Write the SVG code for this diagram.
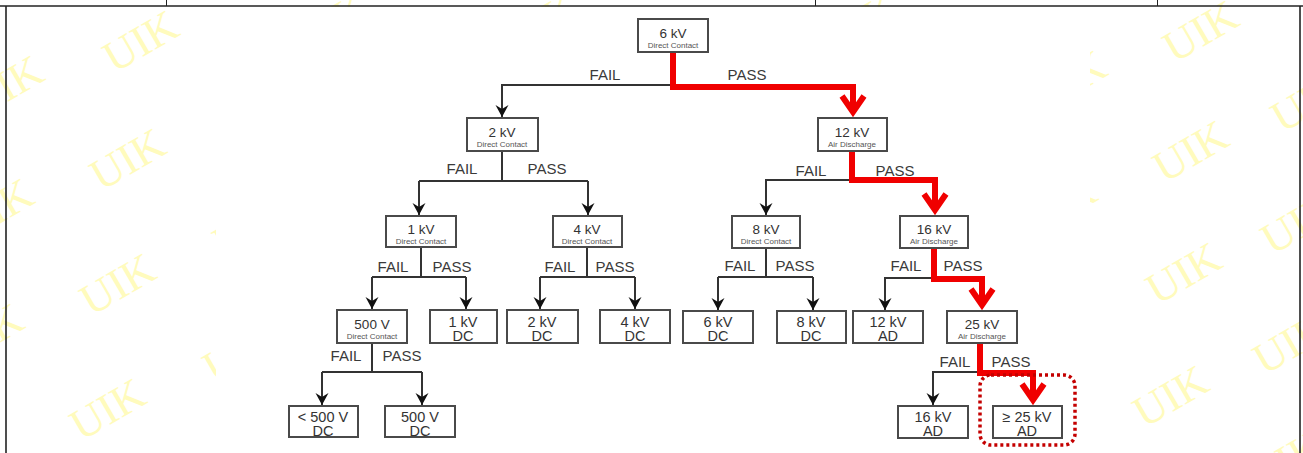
<svg xmlns="http://www.w3.org/2000/svg" width="1303" height="453" viewBox="0 0 1303 453">
<style>
.wm{font-family:"Liberation Serif","DejaVu Serif",serif;font-size:44px;fill:#fffbbd;text-anchor:middle}
.box{fill:#fff;stroke:#4a4a4a;stroke-width:2}
.t{font-family:"Liberation Sans",Arial,sans-serif;font-size:13.5px;fill:#333;text-anchor:middle}
.t2{font-family:"Liberation Sans",Arial,sans-serif;font-size:14.5px;fill:#333;text-anchor:middle}
.s{font-family:"Liberation Sans",Arial,sans-serif;font-size:8px;fill:#555;text-anchor:middle}
.lbl{font-family:"Liberation Sans",Arial,sans-serif;font-size:15px;fill:#3a3a3a;text-anchor:middle}
.blk{fill:none;stroke:#333;stroke-width:2;marker-end:url(#ah)}
.ln{fill:none;stroke:#333;stroke-width:2}
.reda{fill:none;stroke:#f00000;stroke-width:6;marker-end:url(#rah)}
.tbl{stroke:#222;fill:none}
</style>
<defs>
<marker id="ah" viewBox="-13 -7 14 14" refX="0" refY="0" markerWidth="14" markerHeight="14" markerUnits="userSpaceOnUse" orient="auto">
<path d="M0,0 L-12,-6.5 L-8,0 L-12,6.5 Z" fill="#111"/>
</marker>
<marker id="rah" viewBox="-20 -14 28 28" refX="0" refY="0" markerWidth="28" markerHeight="28" markerUnits="userSpaceOnUse" orient="auto">
<path d="M-16,-11 L0,0 L-16,11" fill="none" stroke="#f00000" stroke-width="6"/>
</marker>
</defs>
<rect x="0" y="0" width="1303" height="453" fill="#fff"/>
<g id="watermarks">
<text class="wm" transform="rotate(-30 140 40)" x="140" y="56">UIK</text>
<text class="wm" transform="rotate(-30 127 158)" x="127" y="174">UIK</text>
<text class="wm" transform="rotate(-30 117 283)" x="117" y="299">UIK</text>
<text class="wm" transform="rotate(-30 107 408)" x="107" y="424">UIK</text>
<text class="wm" transform="rotate(-30 5 85)" x="5" y="101">UIK</text>
<text class="wm" transform="rotate(-30 -5 208)" x="-5" y="224">UIK</text>
<text class="wm" transform="rotate(-30 -15 333)" x="-15" y="349">UIK</text>
<text class="wm" transform="rotate(-30 1200 30)" x="1200" y="46">UIK</text>
<text class="wm" transform="rotate(-30 1190 150)" x="1190" y="166">UIK</text>
<text class="wm" transform="rotate(-30 1183 272)" x="1183" y="288">UIK</text>
<text class="wm" transform="rotate(-30 1170 395)" x="1170" y="411">UIK</text>
<text class="wm" transform="rotate(-30 1308 100)" x="1308" y="116">UIK</text>
<text class="wm" transform="rotate(-30 1298 222)" x="1298" y="238">UIK</text>
<text class="wm" transform="rotate(-30 1290 342)" x="1290" y="358">UIK</text>
<text class="wm" transform="rotate(-30 1285 460)" x="1285" y="476">UIK</text>
<text class="wm" transform="rotate(-30 1068 80)" x="1068" y="96">UIK</text>
<text class="wm" transform="rotate(-30 1058 205)" x="1058" y="221">UIK</text>
<text class="wm" transform="rotate(-30 250 225)" x="250" y="241">UIK</text>
<text class="wm" transform="rotate(-30 240 350)" x="240" y="366">UIK</text>
<text class="wm" transform="rotate(-30 330 22)" x="330" y="38">UIK</text>
<text class="wm" transform="rotate(-30 540 22)" x="540" y="38">UIK</text>
<text class="wm" transform="rotate(-30 860 22)" x="860" y="38">UIK</text>
</g>
<rect x="216" y="7" width="874" height="446" fill="#fff"/>
<g id="table">
<line class="tbl" x1="0" y1="6" x2="1303" y2="6" stroke-width="1.6"/>
<line class="tbl" x1="166.5" y1="0" x2="166.5" y2="6" stroke-width="1"/>
<line class="tbl" x1="815.5" y1="0" x2="815.5" y2="6" stroke-width="1"/>
<line class="tbl" x1="1157.5" y1="0" x2="1157.5" y2="6" stroke-width="1"/>
<line class="tbl" x1="6" y1="6" x2="6" y2="453" stroke-width="1.6"/>
<line class="tbl" x1="1300" y1="6" x2="1300" y2="453" stroke-width="1.6"/>
</g>
<g id="connectors">
<path class="blk" d="M673,85 H502 V117"/>
<path class="ln" d="M502,151 V181 M419,181 H588"/>
<path class="blk" d="M419,181 V215"/>
<path class="blk" d="M588,181 V215"/>
<path class="blk" d="M852,180 H766 V215"/>
<path class="ln" d="M421,247 V277 M372,277 H466"/>
<path class="blk" d="M372,277 V309"/>
<path class="blk" d="M466,277 V309"/>
<path class="ln" d="M587,247 V277 M540,277 H635"/>
<path class="blk" d="M540,277 V309"/>
<path class="blk" d="M635,277 V309"/>
<path class="ln" d="M766,248 V277 M718,277 H813"/>
<path class="blk" d="M718,277 V310"/>
<path class="blk" d="M813,277 V310"/>
<path class="blk" d="M934,278 H885 V310"/>
<path class="ln" d="M372,343 V372 M322,372 H422"/>
<path class="blk" d="M322,372 V405"/>
<path class="blk" d="M422,372 V405"/>
<path class="blk" d="M980,372 H933 V405"/>
<path class="reda" d="M673,52 V87 H853 V112"/>
<path class="reda" d="M852,152 V180 H935 V210"/>
<path class="reda" d="M934,248 V279 H982 V305"/>
<path class="reda" d="M980,343 V373 H1033 V400"/>
<rect x="980" y="375" width="95" height="70" rx="11" fill="none" stroke="#c40000" stroke-width="3.5" stroke-dasharray="3 3"/>
</g>
<g id="labels">
<text class="lbl" x="605" y="80">FAIL</text><text class="lbl" x="747" y="80">PASS</text>
<text class="lbl" x="462" y="174">FAIL</text><text class="lbl" x="547" y="174">PASS</text>
<text class="lbl" x="811" y="176">FAIL</text><text class="lbl" x="895" y="176">PASS</text>
<text class="lbl" x="393" y="272">FAIL</text><text class="lbl" x="452" y="272">PASS</text>
<text class="lbl" x="560" y="272">FAIL</text><text class="lbl" x="615" y="272">PASS</text>
<text class="lbl" x="740" y="271">FAIL</text><text class="lbl" x="795" y="271">PASS</text>
<text class="lbl" x="906" y="271">FAIL</text><text class="lbl" x="963" y="271">PASS</text>
<text class="lbl" x="346" y="361">FAIL</text><text class="lbl" x="402" y="361">PASS</text>
<text class="lbl" x="955" y="367">FAIL</text><text class="lbl" x="1011" y="367">PASS</text>
</g>
<g id="n6kv"><rect class="box" x="638" y="19" width="70" height="33"/><text class="t" x="673" y="38">6 kV</text><text class="s" x="673" y="48">Direct Contact</text></g>
<g id="n2kv"><rect class="box" x="467" y="118" width="71" height="33"/><text class="t" x="502" y="137">2 kV</text><text class="s" x="502" y="147">Direct Contact</text></g>
<g id="n12kv"><rect class="box" x="818" y="118" width="69" height="33"/><text class="t" x="852" y="137">12 kV</text><text class="s" x="852" y="147">Air Discharge</text></g>
<g id="n1kv"><rect class="box" x="386" y="216" width="70" height="31"/><text class="t" x="421" y="234">1 kV</text><text class="s" x="421" y="244">Direct Contact</text></g>
<g id="n4kv"><rect class="box" x="553" y="216" width="69" height="31"/><text class="t" x="587" y="234">4 kV</text><text class="s" x="587" y="244">Direct Contact</text></g>
<g id="n8kv"><rect class="box" x="732" y="216" width="68" height="32"/><text class="t" x="766" y="234">8 kV</text><text class="s" x="766" y="244">Direct Contact</text></g>
<g id="n16kv"><rect class="box" x="900" y="216" width="68" height="32"/><text class="t" x="934" y="234">16 kV</text><text class="s" x="934" y="244">Air Discharge</text></g>
<g id="n500v"><rect class="box" x="337" y="310" width="70" height="33"/><text class="t" x="372" y="329">500 V</text><text class="s" x="372" y="339">Direct Contact</text></g>
<g id="n1kvdc"><rect class="box" x="430" y="310" width="67" height="33"/><text class="t2" x="463" y="327">1 kV</text><text class="t2" x="463" y="341">DC</text></g>
<g id="n2kvdc"><rect class="box" x="507" y="310" width="71" height="33"/><text class="t2" x="542" y="327">2 kV</text><text class="t2" x="542" y="341">DC</text></g>
<g id="n4kvdc"><rect class="box" x="600" y="310" width="70" height="33"/><text class="t2" x="635" y="327">4 kV</text><text class="t2" x="635" y="341">DC</text></g>
<g id="n6kvdc"><rect class="box" x="683" y="311" width="70" height="32"/><text class="t2" x="718" y="327">6 kV</text><text class="t2" x="718" y="341">DC</text></g>
<g id="n8kvdc"><rect class="box" x="777" y="311" width="69" height="32"/><text class="t2" x="811" y="327">8 kV</text><text class="t2" x="811" y="341">DC</text></g>
<g id="n12kvad"><rect class="box" x="853" y="311" width="70" height="32"/><text class="t2" x="888" y="327">12 kV</text><text class="t2" x="888" y="341">AD</text></g>
<g id="n25kv"><rect class="box" x="947" y="311" width="70" height="32"/><text class="t" x="982" y="329">25 kV</text><text class="s" x="982" y="339">Air Discharge</text></g>
<g id="nlt500dc"><rect class="box" x="289" y="406" width="69" height="31"/><text class="t2" x="323" y="422">&lt; 500 V</text><text class="t2" x="323" y="436">DC</text></g>
<g id="n500vdc"><rect class="box" x="385" y="406" width="70" height="31"/><text class="t2" x="420" y="422">500 V</text><text class="t2" x="420" y="436">DC</text></g>
<g id="n16kvad"><rect class="box" x="898" y="406" width="70" height="32"/><text class="t2" x="933" y="422">16 kV</text><text class="t2" x="933" y="436">AD</text></g>
<g id="n25kvad"><rect class="box" x="993" y="406" width="69" height="32"/><text class="t2" x="1027" y="422">≥ 25 kV</text><text class="t2" x="1027" y="436">AD</text></g>
</svg>
